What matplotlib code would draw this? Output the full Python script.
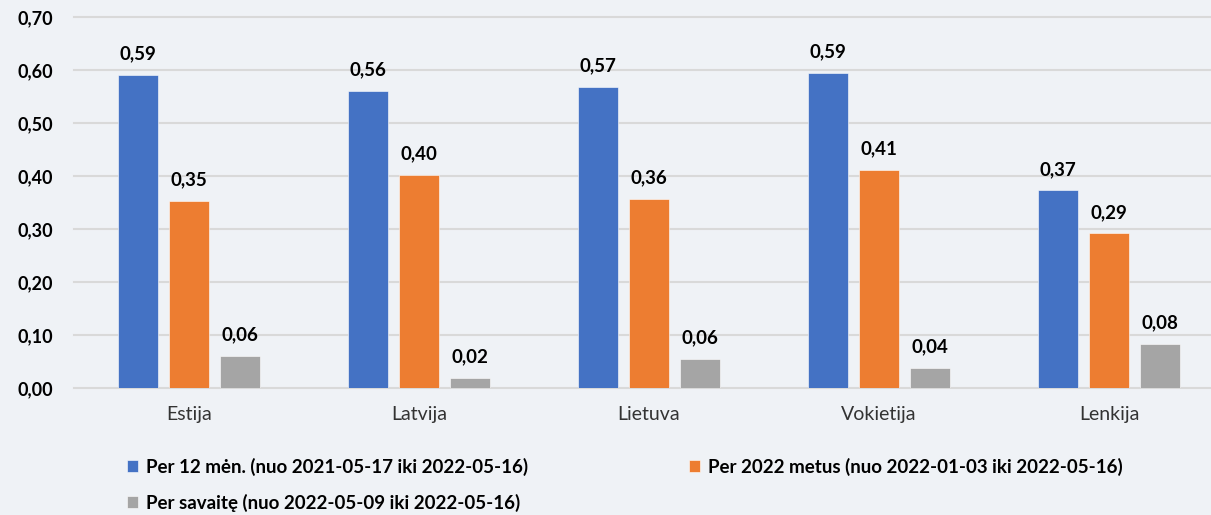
import numpy as np
import matplotlib.pyplot as plt
from matplotlib.ticker import FuncFormatter

# data
countries = ["Estija", "Latvija", "Lietuva", "Vokietija", "Lenkija"]
per_12_men = [0.591, 0.561, 0.568, 0.594, 0.373]
per_2022 = [0.354, 0.402, 0.357, 0.412, 0.292]
per_savaite = [0.061, 0.019, 0.056, 0.038, 0.084]
series_names = [
    "Per 12 mėn. (nuo 2021-05-17 iki 2022-05-16)",
    "Per 2022 metus (nuo 2022-01-03 iki 2022-05-16)",
    "Per savaitę (nuo 2022-05-09 iki 2022-05-16)",
]
colors = ["#4472C4", "#ED7D31", "#A5A5A5"]
bg = "#EFF2F6"

plt.rcParams["font.family"] = ["Lato", "DejaVu Sans"]

fig = plt.figure(figsize=(12.11, 5.15), dpi=100, facecolor=bg)
ax = fig.add_axes([74 / 1211, 1 - 388.3 / 515, 1150 / 1211, 371.3 / 515])
ax.set_facecolor(bg)

x = np.arange(len(countries))
w = 0.174
off = 0.222
bars = []
for i, vals in enumerate([per_12_men, per_2022, per_savaite]):
    b = ax.bar(x + (i - 1) * off, vals, w, color=colors[i], label=series_names[i],
               edgecolor="white", linewidth=0.4, zorder=3)
    bars.append(b)
    for xi, v in zip(x + (i - 1) * off, vals):
        ax.annotate(f"{v:.2f}".replace(".", ","), (xi, v), xytext=(0, 9),
                    textcoords="offset points", ha="center", va="bottom",
                    fontsize=13.5, fontweight="bold", color="black")

ax.set_xlim(-0.5, 4.5)
ax.set_ylim(0, 0.7)
ax.set_yticks(np.arange(0, 0.71, 0.1))
ax.yaxis.set_major_formatter(FuncFormatter(lambda v, p: f"{v:.2f}".replace(".", ",")))
ax.set_xticks(x)
ax.set_xticklabels(countries)
ax.grid(axis="y", color="#D9D9D9", linewidth=1.5, zorder=0)
ax.set_axisbelow(True)
for s in ax.spines.values():
    s.set_visible(False)
ax.tick_params(axis="y", length=0, pad=15, labelsize=13)
ax.tick_params(axis="x", length=0, pad=13, labelsize=14, labelcolor="#333333")
for t in ax.get_yticklabels():
    t.set_fontweight("bold")
for gl in ax.get_ygridlines():
    gl.set_clip_on(False)

# row-wise order in a 2-column legend
order = [0, 2, 1]
leg = fig.legend([bars[k] for k in order], [series_names[k] for k in order],
                 loc="upper left", bbox_to_anchor=(110 / 1211, 1 - 441 / 515), ncol=2,
                 frameon=False, prop={"weight": "bold", "size": 13.5},
                 handlelength=0.6, handleheight=0.6, handletextpad=0.4,
                 columnspacing=8.6, labelspacing=0.95)

fig.savefig("out.png", dpi=100, facecolor=bg)
